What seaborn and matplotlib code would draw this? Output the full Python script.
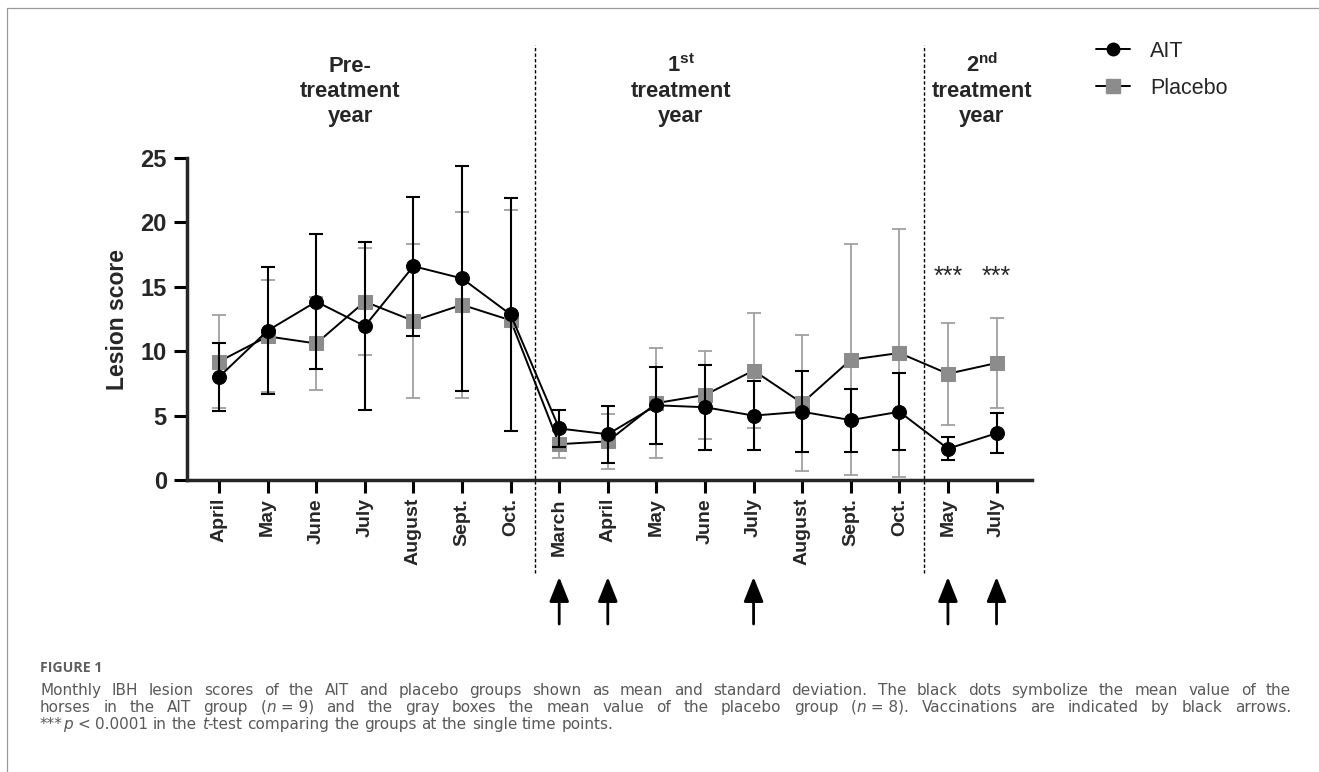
import numpy as np
import pandas as pd
import matplotlib
matplotlib.use("Agg")
import matplotlib.pyplot as plt
import seaborn as sns
from matplotlib.lines import Line2D

# ---------------- data ----------------
months = ["April", "May", "June", "July", "August", "Sept.", "Oct.",
          "March", "April", "May", "June", "July", "August", "Sept.", "Oct.",
          "May", "July"]
ait_mean = [8.0, 11.6, 13.85, 11.95, 16.6, 15.65, 12.85,
            4.0, 3.55, 5.8, 5.65, 5.0, 5.3, 4.65, 5.3,
            2.43, 3.63]
ait_sd = [2.65, 4.9, 5.25, 6.55, 5.4, 8.75, 9.05,
          1.4, 2.2, 3.0, 3.3, 2.65, 3.15, 2.44, 3.0,
          0.87, 1.56]
placebo_mean = [9.2, 11.15, 10.6, 13.85, 12.35, 13.6, 12.4,
                2.78, 3.0, 5.97, 6.6, 8.5, 5.97, 9.34, 9.86,
                8.25, 9.08]
placebo_sd = [3.6, 4.35, 3.6, 4.15, 5.95, 7.2, 8.6,
              1.04, 2.15, 4.3, 3.4, 4.5, 5.3, 8.95, 9.6,
              3.95, 3.5]
period_titles = [["Pre-", "treatment", "year"],
                 [r"1$^{\mathbf{st}}$", "treatment", "year"],
                 [r"2$^{\mathbf{nd}}$", "treatment", "year"]]
period_centers = [2.7, 9.5, 15.7]
period_bounds = [6.5, 14.5]
vaccination_idx = [7, 8, 11, 15, 16]
signif_idx = [15, 16]
yticks = [0, 5, 10, 15, 20, 25]

caption_title = "FIGURE 1"
caption_lines = [
    ("Monthly IBH lesion scores of the AIT and placebo groups shown as mean and standard "
     "deviation. The black dots symbolize the mean value of the", True),
    ("horses in the AIT group (_n_ = 9) and the gray boxes the mean value of the placebo "
     "group (_n_ = 8). Vaccinations are indicated by black arrows.", True),
    ("***_p_ < 0.0001 in the _t_-test comparing the groups at the single time points.", False),
]

# ---------------- style ----------------
sns.set_style("ticks")
plt.rcParams["font.family"] = ["Liberation Sans", "DejaVu Sans"]
plt.rcParams["mathtext.fontset"] = "custom"
plt.rcParams["mathtext.bf"] = "Liberation Sans:bold"
plt.rcParams["mathtext.rm"] = "Liberation Sans"

W, H = 1319, 772
fig = plt.figure(figsize=(W / 100, H / 100), dpi=100)
L, R, B, T = 187, 1032, 480, 158
ax = fig.add_axes([L / W, 1 - B / H, (R - L) / W, (B - T) / H])

x = np.arange(len(months))
df = pd.DataFrame({
    "x": np.concatenate([x, x]),
    "score": ait_mean + placebo_mean,
    "group": ["AIT"] * len(x) + ["Placebo"] * len(x),
})

pla_face = "#8c8c8c"
pla_err = "#a0a0a0"

# placebo
ax.errorbar(x, placebo_mean, yerr=placebo_sd, fmt="none", ecolor=pla_err,
            elinewidth=1.3, capsize=4.7, capthick=1.3, zorder=2)
sns.lineplot(data=df[df.group == "Placebo"], x="x", y="score", ax=ax,
             color="black", lw=1.4, marker="s", markersize=10.5,
             markerfacecolor=pla_face, markeredgecolor=pla_face,
             label="Placebo", zorder=3)
# AIT
ax.errorbar(x, ait_mean, yerr=ait_sd, fmt="none", ecolor="black",
            elinewidth=1.5, capsize=4.7, capthick=1.5, zorder=4)
sns.lineplot(data=df[df.group == "AIT"], x="x", y="score", ax=ax,
             color="black", lw=1.4, marker="o", markersize=10,
             markerfacecolor="black", markeredgecolor="black",
             label="AIT", zorder=5)
if ax.get_legend() is not None:
    ax.get_legend().remove()

ax.set_xlim(-0.66, 16.73)
ax.set_ylim(0, 25)
ax.set_yticks(yticks)
ax.set_yticklabels([str(v) for v in yticks], fontsize=17, fontweight="bold")
ax.set_xticks(x)
ax.set_xticklabels(months, rotation=90, fontsize=14, fontweight="bold")
ax.set_xlabel("")
ax.set_ylabel("")
sns.despine(ax=ax)
for sp in ["left", "bottom"]:
    ax.spines[sp].set_linewidth(2.5)
ax.tick_params(axis="both", direction="out", length=9.5, width=2.2, color="black")
ax.tick_params(axis="y", pad=5)
ax.tick_params(axis="x", pad=3.5)

fig.text(117 / W, 1 - 320 / H, "Lesion score", rotation=90, ha="center",
         va="center", fontsize=16.5, fontweight="bold")

# dashed separators
tr = ax.get_xaxis_transform()
for xb in period_bounds:
    ax.plot([xb, xb], [(B - 573) / (B - T), (B - 45) / (B - T)], transform=tr,
            clip_on=False, color="black", lw=1.0, ls=(0, (2.4, 1.6)), zorder=1)

# period titles
for lines, xc in zip(period_titles, period_centers):
    xpix = L + (xc + 0.66) / (16.73 + 0.66) * (R - L)
    for line, yb in zip(lines, [72, 97, 122]):
        fig.text(xpix / W, 1 - yb / H, line, ha="center", va="baseline",
                 fontsize=15.8, fontweight="bold")

# significance
for i in signif_idx:
    ax.text(i, 15.2, "***", ha="center", va="baseline", fontsize=18)

# vaccination arrows
for i in vaccination_idx:
    ax.annotate("", xy=(i, (B - 577) / (B - T)), xytext=(i, (B - 624) / (B - T)),
                xycoords=tr, textcoords=tr, annotation_clip=False,
                arrowprops=dict(arrowstyle="-|>,head_length=15,head_width=6.0",
                                mutation_scale=1, color="black", lw=2.0,
                                shrinkA=0, shrinkB=0))

# legend
handles = [Line2D([], [], color="black", lw=1.4, marker="o", markersize=9,
                  markerfacecolor="black", markeredgecolor="black"),
           Line2D([], [], color="black", lw=1.4, marker="s", markersize=9.5,
                  markerfacecolor=pla_face, markeredgecolor=pla_face)]
fig.legend(handles, ["AIT", "Placebo"], loc="upper left",
           bbox_to_anchor=(1096 / W, 1 - 41 / H), frameon=False, fontsize=15.5,
           handlelength=1.58, handletextpad=0.93, labelspacing=0.72,
           borderpad=0, borderaxespad=0)

# frame
frame_c = "#9a9a9a"
fig.add_artist(Line2D([7 / W, 1], [1 - 8 / H, 1 - 8 / H], color=frame_c, lw=0.9))
fig.add_artist(Line2D([7 / W, 7 / W], [0, 1 - 8 / H], color=frame_c, lw=0.9))

# caption
cap_font = ["DejaVu Sans"]
cap_color = "#595959"
cap_size = 11
fig.text(40 / W, 1 - 672 / H, caption_title, family=["Open Sans", "DejaVu Sans"],
         fontsize=10.2, fontweight="bold", color="#5f5f5f", ha="left", va="baseline")

renderer = fig.canvas.get_renderer()


def parse_word(w):
    parts = w.split("_")
    return [(p, k % 2 == 1) for k, p in enumerate(parts) if p]


def text_width(s, italic=False):
    t = fig.text(0, 0, s, family=cap_font, fontsize=cap_size,
                 style="italic" if italic else "normal")
    wd = t.get_window_extent(renderer).width
    t.remove()
    return wd


space_w = text_width("a a") - text_width("aa")
x0c, x1c = 40, 1291
for (line, justify), yb in zip(caption_lines, [695, 712, 729]):
    tokens = line.replace("(_n_ = 9)", "(_n_\u00a0=\u00a09)").replace(
        "(_n_ = 8)", "(_n_\u00a0=\u00a08)").split(" ")
    words = []
    for tok in tokens:
        pieces = []
        for s, it in parse_word(tok):
            t = fig.text(0, 1 - yb / H, s, family=cap_font, fontsize=cap_size,
                         style="italic" if it else "normal", color=cap_color,
                         ha="left", va="baseline")
            pieces.append((t, t.get_window_extent(renderer).width))
        words.append(pieces)
    widths = [sum(p[1] for p in w) for w in words]
    gap = (x1c - x0c - sum(widths)) / (len(words) - 1) if justify else space_w
    xp = x0c
    for w, wd in zip(words, widths):
        for t, pw in w:
            t.set_x(xp / W)
            xp += pw
        xp += gap

fig.savefig("out.png", dpi=100)
